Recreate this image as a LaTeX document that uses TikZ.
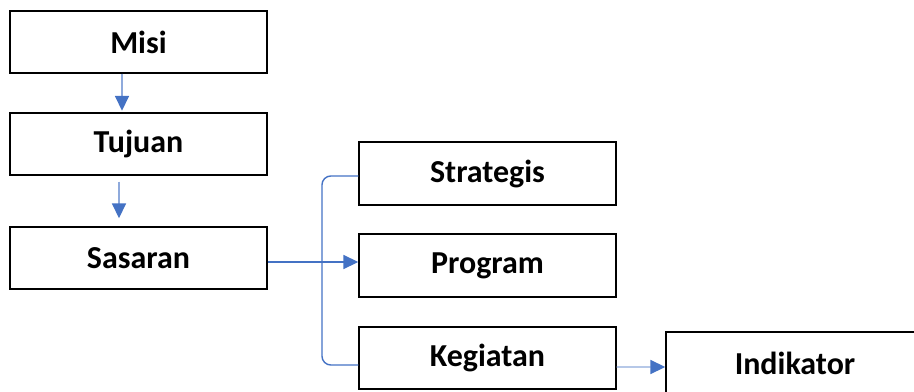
\documentclass[tikz,border=0pt]{standalone}
\usepackage{fontspec}
\setmainfont{Carlito}
\usetikzlibrary{positioning,arrows.meta,calc}
\definecolor{linkblue}{RGB}{68,114,196}
\definecolor{paleblue}{RGB}{143,170,220}
\tikzset{box/.style={draw,line width=0.85pt,minimum width=5.14cm,minimum height=1.24cm,inner sep=0pt,
        font=\fontsize{18.2}{22}\selectfont\bfseries},
    link/.style={linkblue,line width=0.8pt,-{Triangle[width=8pt,length=8.5pt]}},
    palelink/.style={paleblue,line width=0.8pt,-{Triangle[width=8pt,length=8.5pt,color=linkblue]}}
}
\begin{document}
\begin{tikzpicture}[x=0.02cm,y=-0.02cm]
	\useasboundingbox (0,0) rectangle (914,392);
	\node[box] (misi) at (138.5,42) {Misi};
	\node[box] (tujuan) at (138.5,144) {Tujuan};
	\node[box] (sasaran) at (138.5,258) {Sasaran};
	\node[box,minimum height=1.26cm] (strategis) at (487.5,173.5) {Strategis};
	\node[box,minimum height=1.26cm] (program) at (487.5,265.5) {Program};
	\node[box] (kegiatan) at (487.5,358) {Kegiatan};
	\node[box,minimum width=5.16cm] (indikator) at (795,363) {Indikator};
	\coordinate (hub) at (322,262);
	\draw[palelink] ([xshift=-0.33cm]misi.south) -- ([xshift=-0.33cm,yshift=0.03cm]tujuan.north);
	\draw[palelink,shorten <=0.12cm,shorten >=0.16cm] ([xshift=-0.39cm]tujuan.south) -- ([xshift=-0.39cm]sasaran.north);
	\draw[link] (sasaran.east |- hub) -- (program.west |- hub);
	\draw[linkblue,line width=0.8pt,rounded corners=5pt] ([yshift=-0.05cm]strategis.west) -| (hub) |- ([yshift=-0.14cm]kegiatan.west);
	\draw[palelink] ([yshift=-0.18cm]kegiatan.east) -- ([yshift=-0.08cm]indikator.west);
\end{tikzpicture}
\end{document}
